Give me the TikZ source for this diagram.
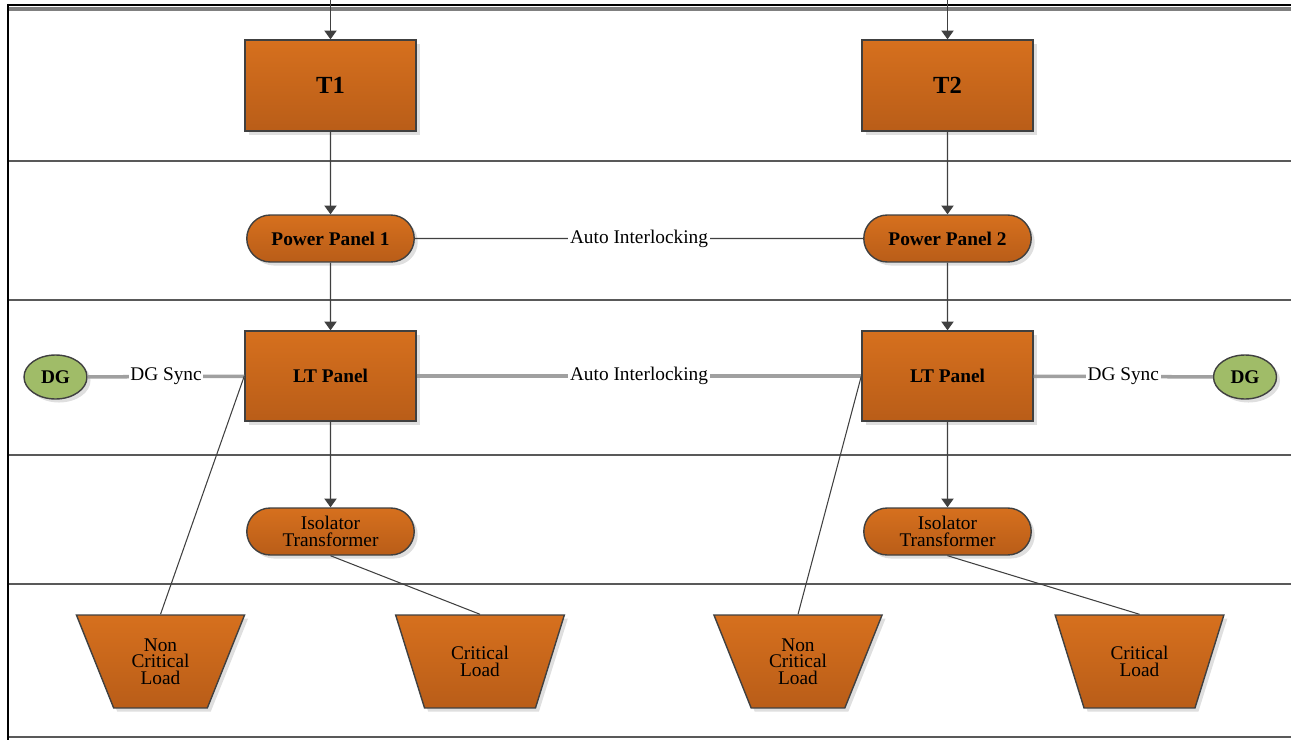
\documentclass[tikz,border=0pt]{standalone}
\usepackage{fontspec}
\setmainfont{Liberation Serif}
\usetikzlibrary{arrows.meta,shapes.geometric,shapes.misc,shadows}
\definecolor{boxtop}{RGB}{214,112,30}
\definecolor{boxbot}{RGB}{185,93,24}
\definecolor{edge}{RGB}{64,64,64}
\definecolor{dggreen}{RGB}{160,188,104}
\definecolor{synclink}{RGB}{160,160,160}
\begin{document}
\begin{tikzpicture}[x=0.02cm, y=-0.02cm,
        font=\fontsize{11}{9.5}\selectfont,
        shade/.style={drop shadow={opacity=0.25, shadow xshift=2pt, shadow yshift=-2pt}},
        unitbox/.style={shade, draw=edge, line width=0.8pt, top color=boxtop, bottom color=boxbot, align=center},
        xfmr/.style={unitbox, rectangle, minimum width=3.42cm, minimum height=1.82cm, font=\fontsize{14}{16}\selectfont\bfseries},
        ltbox/.style={unitbox, rectangle, minimum width=3.42cm, minimum height=1.8cm, font=\fontsize{11}{13}\selectfont\bfseries},
        panel/.style={unitbox, rounded rectangle, minimum width=3.42cm, minimum height=0.94cm, inner sep=1pt},
        load/.style={unitbox, trapezium, trapezium left angle=116.5, trapezium right angle=116.5, trapezium stretches=true, minimum width=3.38cm, minimum height=1.86cm, inner sep=0pt},
        dg/.style={shade, ellipse, draw=edge, line width=0.8pt, fill=dggreen, minimum width=1.26cm, minimum height=0.88cm, inner sep=0pt, font=\fontsize{11}{13}\selectfont\bfseries},
        flow/.style={draw=edge, line width=0.8pt, -{Triangle[width=7pt,length=5pt]}},
        tie/.style={draw=edge, line width=0.6pt},
        sync/.style={draw=synclink, line width=2pt},
        linktag/.style={fill=white, inner sep=1pt},
        lane/.style={draw=gray!70!black, line width=1.4pt}]
    \useasboundingbox (0,0) rectangle (1291,740);

    % lanes
    \draw[black, line width=1pt] (8,5) -- (1291,5);
    \draw[gray, line width=2pt] (8,9) -- (1291,9);
    \draw[lane] (8,161) -- (1291,161);
    \draw[lane] (8,300) -- (1291,300);
    \draw[lane] (8,455) -- (1291,455);
    \draw[lane] (8,584) -- (1291,584);
    \draw[lane] (8,737) -- (1291,737);
    \draw[black, line width=1.5pt] (8,4) -- (8,740);

    \path (330.5, 85.5)  node[xfmr]  (t1)   {T1};
    \path (947.5, 85.5)  node[xfmr]  (t2)   {T2};
    \path (330.5, 238.5) node[panel, font=\fontsize{11}{13}\selectfont\bfseries] (pp1) {Power Panel 1};
    \path (947.5, 238.5) node[panel, font=\fontsize{11}{13}\selectfont\bfseries] (pp2) {Power Panel 2};
    \path (330.5, 376)   node[ltbox] (lt1)  {LT Panel};
    \path (947.5, 376)   node[ltbox] (lt2)  {LT Panel};
    \path (55.5, 377)    node[dg]    (dg1)  {DG};
    \path (1245, 377)    node[dg]    (dg2)  {DG};
    \path (330.5, 531.5) node[panel] (iso1) {Isolator\\Transformer};
    \path (947.5, 531.5) node[panel] (iso2) {Isolator\\Transformer};
    \path (160.5, 661.5) node[load]  (ncl1) {Non\\Critical\\Load};
    \path (480, 661.5)   node[load]  (cl1)  {Critical\\Load};
    \path (798, 661.5)   node[load]  (ncl2) {Non\\Critical\\Load};
    \path (1139.5, 661.5) node[load] (cl2)  {Critical\\Load};

    \coordinate (in1) at (330.5, 0);
    \coordinate (in2) at (947.5, 0);

    \draw[flow] (in1) -- (t1);
    \draw[flow] (in2) -- (t2);
    \draw[flow] (t1) -- (pp1);
    \draw[flow] (t2) -- (pp2);
    \draw[flow] (pp1) -- (lt1);
    \draw[flow] (pp2) -- (lt2);
    \draw[flow] (lt1) -- (iso1);
    \draw[flow] (lt2) -- (iso2);

    \draw[tie] (pp1) -- node[linktag] {Auto Interlocking} (pp2);
    \draw[sync] (lt1) -- node[linktag] {Auto Interlocking} (lt2);
    \draw[sync] (dg1) -- node[linktag] {DG Sync} (lt1);
    \draw[sync] (lt2) -- node[linktag] {DG Sync} (dg2);

    \draw[tie] (lt1.west) -- (ncl1.north);
    \draw[tie] (lt2.west) -- (ncl2.north);
    \draw[tie] (iso1.south) -- (cl1.north);
    \draw[tie] (iso2.south) -- (cl2.north);
\end{tikzpicture}
\end{document}
